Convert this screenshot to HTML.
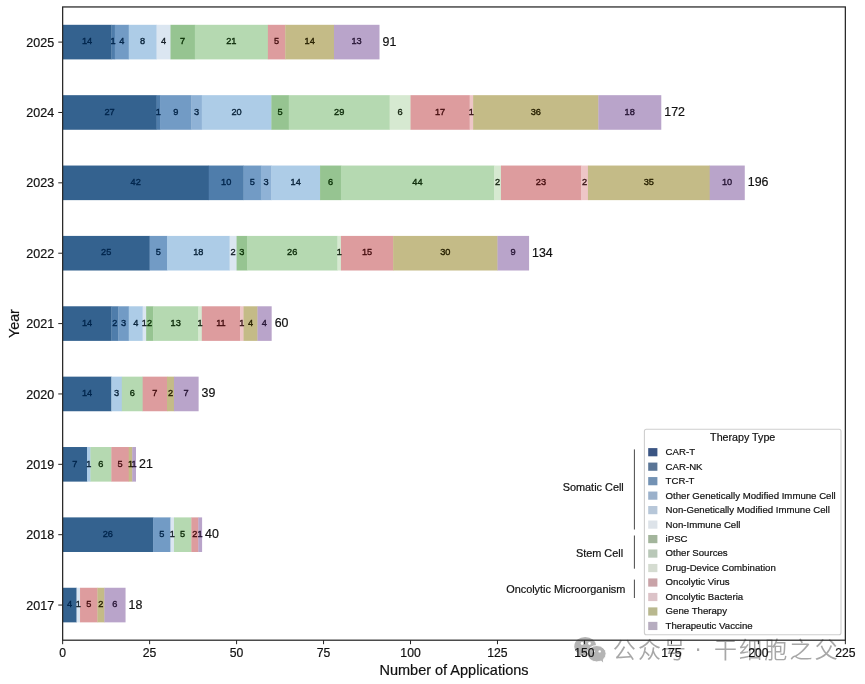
<!DOCTYPE html>
<html lang="en"><head><meta charset="utf-8"><title>Number of Applications by Year and Therapy Type</title>
<style>html,body{margin:0;padding:0;background:#fff}body{width:865px;height:684px;overflow:hidden}svg{display:block}</style></head>
<body>
<svg width="865" height="684" viewBox="0 0 865 684" font-family="Liberation Sans, Arial, sans-serif">
<rect width="865" height="684" fill="#fff"/>
<g opacity="0.75">
<g fill="#9c9c9c"><ellipse cx="585.2" cy="646.2" rx="10.9" ry="9.3"/><path d="M578.5 652.5 l-1.8 4.6 l6 -2.6 z"/><ellipse cx="596.7" cy="653.7" rx="9.4" ry="8.2" stroke="#fff" stroke-width="0.9"/><path d="M600.5 660 l2.6 2.6 l-0.3 -4 z"/></g>
<g fill="#fff"><circle cx="582.1" cy="643.5" r="1.4"/><circle cx="589.5" cy="643.5" r="1.4"/><circle cx="593.6" cy="651.4" r="1.2"/><circle cx="599.7" cy="651.4" r="1.2"/></g>
<g font-size="23" letter-spacing="2.2" font-weight="350" fill="#8a8a8a" font-family="Liberation Sans, Noto Sans CJK SC, sans-serif"><text x="612.7" y="657.7">公众号</text><text x="699.2" y="656.0" text-anchor="middle">·</text><text x="713.9" y="657.7">干细胞之父</text></g>
</g>
<rect x="62.65" y="24.80" width="49.00" height="34.60" fill="#34628f"/>
<rect x="111.35" y="24.80" width="3.78" height="34.60" fill="#4f7dab"/>
<rect x="114.83" y="24.80" width="14.21" height="34.60" fill="#729bc5"/>
<rect x="128.74" y="24.80" width="28.13" height="34.60" fill="#adcce7"/>
<rect x="156.57" y="24.80" width="14.21" height="34.60" fill="#dbe6f1"/>
<rect x="170.49" y="24.80" width="24.65" height="34.60" fill="#96c491"/>
<rect x="194.84" y="24.80" width="73.35" height="34.60" fill="#b5d9b1"/>
<rect x="267.89" y="24.80" width="17.69" height="34.60" fill="#dd9c9e"/>
<rect x="285.28" y="24.80" width="49.00" height="34.60" fill="#c4bb87"/>
<rect x="333.99" y="24.80" width="45.52" height="34.60" fill="#b9a4ca"/>
<text transform="translate(87.00,44.30) scale(0.940,1.000)" font-size="9.80" text-anchor="middle" fill="#00254c" stroke="#00254c" stroke-width="0.38">14</text>
<text transform="translate(113.09,44.30) scale(0.940,1.000)" font-size="9.80" text-anchor="middle" fill="#00254c" stroke="#00254c" stroke-width="0.38">1</text>
<text transform="translate(121.79,44.30) scale(0.940,1.000)" font-size="9.80" text-anchor="middle" fill="#022448" stroke="#022448" stroke-width="0.38">4</text>
<text transform="translate(142.66,44.30) scale(0.940,1.000)" font-size="9.80" text-anchor="middle" fill="#09233a" stroke="#09233a" stroke-width="0.38">8</text>
<text transform="translate(163.53,44.30) scale(0.940,1.000)" font-size="9.80" text-anchor="middle" fill="#162029" stroke="#162029" stroke-width="0.38">4</text>
<text transform="translate(182.66,44.30) scale(0.940,1.000)" font-size="9.80" text-anchor="middle" fill="#082f03" stroke="#082f03" stroke-width="0.38">7</text>
<text transform="translate(231.37,44.30) scale(0.940,1.000)" font-size="9.80" text-anchor="middle" fill="#0c2b09" stroke="#0c2b09" stroke-width="0.38">21</text>
<text transform="translate(276.59,44.30) scale(0.940,1.000)" font-size="9.80" text-anchor="middle" fill="#450d0f" stroke="#450d0f" stroke-width="0.38">5</text>
<text transform="translate(309.64,44.30) scale(0.940,1.000)" font-size="9.80" text-anchor="middle" fill="#282100" stroke="#282100" stroke-width="0.38">14</text>
<text transform="translate(356.60,44.30) scale(0.940,1.000)" font-size="9.80" text-anchor="middle" fill="#271535" stroke="#271535" stroke-width="0.38">13</text>
<text transform="translate(382.51,45.55) scale(1.000,1.000)" font-size="12.40" text-anchor="start" fill="#111" stroke="#111" stroke-width="0.20">91</text>
<line x1="58.25" y1="42.10" x2="62.65" y2="42.10" stroke="#222" stroke-width="1"/>
<text transform="translate(54.15,46.65) scale(1.000,1.000)" font-size="12.50" text-anchor="end" fill="#111" stroke="#111" stroke-width="0.20">2025</text>
<rect x="62.65" y="95.17" width="94.22" height="34.60" fill="#34628f"/>
<rect x="156.57" y="95.17" width="3.78" height="34.60" fill="#4f7dab"/>
<rect x="160.05" y="95.17" width="31.61" height="34.60" fill="#729bc5"/>
<rect x="191.36" y="95.17" width="10.74" height="34.60" fill="#8fb2d6"/>
<rect x="201.80" y="95.17" width="69.87" height="34.60" fill="#adcce7"/>
<rect x="271.37" y="95.17" width="17.69" height="34.60" fill="#96c491"/>
<rect x="288.76" y="95.17" width="101.18" height="34.60" fill="#b5d9b1"/>
<rect x="389.64" y="95.17" width="21.17" height="34.60" fill="#d6e9d1"/>
<rect x="410.52" y="95.17" width="59.44" height="34.60" fill="#dd9c9e"/>
<rect x="469.65" y="95.17" width="3.78" height="34.60" fill="#eec6c7"/>
<rect x="473.13" y="95.17" width="125.53" height="34.60" fill="#c4bb87"/>
<rect x="598.36" y="95.17" width="62.92" height="34.60" fill="#b9a4ca"/>
<text transform="translate(109.61,114.67) scale(0.940,1.000)" font-size="9.80" text-anchor="middle" fill="#00254c" stroke="#00254c" stroke-width="0.38">27</text>
<text transform="translate(158.31,114.67) scale(0.940,1.000)" font-size="9.80" text-anchor="middle" fill="#00254c" stroke="#00254c" stroke-width="0.38">1</text>
<text transform="translate(175.71,114.67) scale(0.940,1.000)" font-size="9.80" text-anchor="middle" fill="#022448" stroke="#022448" stroke-width="0.38">9</text>
<text transform="translate(196.58,114.67) scale(0.940,1.000)" font-size="9.80" text-anchor="middle" fill="#062342" stroke="#062342" stroke-width="0.38">3</text>
<text transform="translate(236.58,114.67) scale(0.940,1.000)" font-size="9.80" text-anchor="middle" fill="#09233a" stroke="#09233a" stroke-width="0.38">20</text>
<text transform="translate(280.07,114.67) scale(0.940,1.000)" font-size="9.80" text-anchor="middle" fill="#082f03" stroke="#082f03" stroke-width="0.38">5</text>
<text transform="translate(339.20,114.67) scale(0.940,1.000)" font-size="9.80" text-anchor="middle" fill="#0c2b09" stroke="#0c2b09" stroke-width="0.38">29</text>
<text transform="translate(400.08,114.67) scale(0.940,1.000)" font-size="9.80" text-anchor="middle" fill="#152511" stroke="#152511" stroke-width="0.38">6</text>
<text transform="translate(440.09,114.67) scale(0.940,1.000)" font-size="9.80" text-anchor="middle" fill="#450d0f" stroke="#450d0f" stroke-width="0.38">17</text>
<text transform="translate(471.39,114.67) scale(0.940,1.000)" font-size="9.80" text-anchor="middle" fill="#361415" stroke="#361415" stroke-width="0.38">1</text>
<text transform="translate(535.75,114.67) scale(0.940,1.000)" font-size="9.80" text-anchor="middle" fill="#282100" stroke="#282100" stroke-width="0.38">36</text>
<text transform="translate(629.67,114.67) scale(0.940,1.000)" font-size="9.80" text-anchor="middle" fill="#271535" stroke="#271535" stroke-width="0.38">18</text>
<text transform="translate(664.28,115.92) scale(1.000,1.000)" font-size="12.40" text-anchor="start" fill="#111" stroke="#111" stroke-width="0.20">172</text>
<line x1="58.25" y1="112.47" x2="62.65" y2="112.47" stroke="#222" stroke-width="1"/>
<text transform="translate(54.15,117.02) scale(1.000,1.000)" font-size="12.50" text-anchor="end" fill="#111" stroke="#111" stroke-width="0.20">2024</text>
<rect x="62.65" y="165.54" width="146.40" height="34.60" fill="#34628f"/>
<rect x="208.75" y="165.54" width="35.09" height="34.60" fill="#4f7dab"/>
<rect x="243.54" y="165.54" width="17.69" height="34.60" fill="#729bc5"/>
<rect x="260.93" y="165.54" width="10.74" height="34.60" fill="#8fb2d6"/>
<rect x="271.37" y="165.54" width="49.00" height="34.60" fill="#adcce7"/>
<rect x="320.07" y="165.54" width="21.17" height="34.60" fill="#96c491"/>
<rect x="340.94" y="165.54" width="153.36" height="34.60" fill="#b5d9b1"/>
<rect x="494.00" y="165.54" width="7.26" height="34.60" fill="#d6e9d1"/>
<rect x="500.96" y="165.54" width="80.31" height="34.60" fill="#dd9c9e"/>
<rect x="580.97" y="165.54" width="7.26" height="34.60" fill="#eec6c7"/>
<rect x="587.93" y="165.54" width="122.05" height="34.60" fill="#c4bb87"/>
<rect x="709.68" y="165.54" width="35.09" height="34.60" fill="#b9a4ca"/>
<text transform="translate(135.70,185.04) scale(0.940,1.000)" font-size="9.80" text-anchor="middle" fill="#00254c" stroke="#00254c" stroke-width="0.38">42</text>
<text transform="translate(226.15,185.04) scale(0.940,1.000)" font-size="9.80" text-anchor="middle" fill="#00254c" stroke="#00254c" stroke-width="0.38">10</text>
<text transform="translate(252.24,185.04) scale(0.940,1.000)" font-size="9.80" text-anchor="middle" fill="#022448" stroke="#022448" stroke-width="0.38">5</text>
<text transform="translate(266.15,185.04) scale(0.940,1.000)" font-size="9.80" text-anchor="middle" fill="#062342" stroke="#062342" stroke-width="0.38">3</text>
<text transform="translate(295.72,185.04) scale(0.940,1.000)" font-size="9.80" text-anchor="middle" fill="#09233a" stroke="#09233a" stroke-width="0.38">14</text>
<text transform="translate(330.51,185.04) scale(0.940,1.000)" font-size="9.80" text-anchor="middle" fill="#082f03" stroke="#082f03" stroke-width="0.38">6</text>
<text transform="translate(417.47,185.04) scale(0.940,1.000)" font-size="9.80" text-anchor="middle" fill="#0c2b09" stroke="#0c2b09" stroke-width="0.38">44</text>
<text transform="translate(497.48,185.04) scale(0.940,1.000)" font-size="9.80" text-anchor="middle" fill="#152511" stroke="#152511" stroke-width="0.38">2</text>
<text transform="translate(540.97,185.04) scale(0.940,1.000)" font-size="9.80" text-anchor="middle" fill="#450d0f" stroke="#450d0f" stroke-width="0.38">23</text>
<text transform="translate(584.45,185.04) scale(0.940,1.000)" font-size="9.80" text-anchor="middle" fill="#361415" stroke="#361415" stroke-width="0.38">2</text>
<text transform="translate(648.81,185.04) scale(0.940,1.000)" font-size="9.80" text-anchor="middle" fill="#282100" stroke="#282100" stroke-width="0.38">35</text>
<text transform="translate(727.08,185.04) scale(0.940,1.000)" font-size="9.80" text-anchor="middle" fill="#271535" stroke="#271535" stroke-width="0.38">10</text>
<text transform="translate(747.77,186.29) scale(1.000,1.000)" font-size="12.40" text-anchor="start" fill="#111" stroke="#111" stroke-width="0.20">196</text>
<line x1="58.25" y1="182.84" x2="62.65" y2="182.84" stroke="#222" stroke-width="1"/>
<text transform="translate(54.15,187.39) scale(1.000,1.000)" font-size="12.50" text-anchor="end" fill="#111" stroke="#111" stroke-width="0.20">2023</text>
<rect x="62.65" y="235.91" width="87.27" height="34.60" fill="#34628f"/>
<rect x="149.62" y="235.91" width="17.69" height="34.60" fill="#729bc5"/>
<rect x="167.01" y="235.91" width="62.92" height="34.60" fill="#adcce7"/>
<rect x="229.63" y="235.91" width="7.26" height="34.60" fill="#dbe6f1"/>
<rect x="236.58" y="235.91" width="10.74" height="34.60" fill="#96c491"/>
<rect x="247.02" y="235.91" width="90.75" height="34.60" fill="#b5d9b1"/>
<rect x="337.46" y="235.91" width="3.78" height="34.60" fill="#d6e9d1"/>
<rect x="340.94" y="235.91" width="52.48" height="34.60" fill="#dd9c9e"/>
<rect x="393.12" y="235.91" width="104.66" height="34.60" fill="#c4bb87"/>
<rect x="497.48" y="235.91" width="31.61" height="34.60" fill="#b9a4ca"/>
<text transform="translate(106.13,255.41) scale(0.940,1.000)" font-size="9.80" text-anchor="middle" fill="#00254c" stroke="#00254c" stroke-width="0.38">25</text>
<text transform="translate(158.31,255.41) scale(0.940,1.000)" font-size="9.80" text-anchor="middle" fill="#022448" stroke="#022448" stroke-width="0.38">5</text>
<text transform="translate(198.32,255.41) scale(0.940,1.000)" font-size="9.80" text-anchor="middle" fill="#09233a" stroke="#09233a" stroke-width="0.38">18</text>
<text transform="translate(233.10,255.41) scale(0.940,1.000)" font-size="9.80" text-anchor="middle" fill="#162029" stroke="#162029" stroke-width="0.38">2</text>
<text transform="translate(241.80,255.41) scale(0.940,1.000)" font-size="9.80" text-anchor="middle" fill="#082f03" stroke="#082f03" stroke-width="0.38">3</text>
<text transform="translate(292.24,255.41) scale(0.940,1.000)" font-size="9.80" text-anchor="middle" fill="#0c2b09" stroke="#0c2b09" stroke-width="0.38">26</text>
<text transform="translate(339.20,255.41) scale(0.940,1.000)" font-size="9.80" text-anchor="middle" fill="#152511" stroke="#152511" stroke-width="0.38">1</text>
<text transform="translate(367.03,255.41) scale(0.940,1.000)" font-size="9.80" text-anchor="middle" fill="#450d0f" stroke="#450d0f" stroke-width="0.38">15</text>
<text transform="translate(445.30,255.41) scale(0.940,1.000)" font-size="9.80" text-anchor="middle" fill="#282100" stroke="#282100" stroke-width="0.38">30</text>
<text transform="translate(513.14,255.41) scale(0.940,1.000)" font-size="9.80" text-anchor="middle" fill="#271535" stroke="#271535" stroke-width="0.38">9</text>
<text transform="translate(532.09,256.66) scale(1.000,1.000)" font-size="12.40" text-anchor="start" fill="#111" stroke="#111" stroke-width="0.20">134</text>
<line x1="58.25" y1="253.21" x2="62.65" y2="253.21" stroke="#222" stroke-width="1"/>
<text transform="translate(54.15,257.76) scale(1.000,1.000)" font-size="12.50" text-anchor="end" fill="#111" stroke="#111" stroke-width="0.20">2022</text>
<rect x="62.65" y="306.28" width="49.00" height="34.60" fill="#34628f"/>
<rect x="111.35" y="306.28" width="7.26" height="34.60" fill="#4f7dab"/>
<rect x="118.31" y="306.28" width="10.74" height="34.60" fill="#729bc5"/>
<rect x="128.74" y="306.28" width="14.21" height="34.60" fill="#adcce7"/>
<rect x="142.66" y="306.28" width="3.78" height="34.60" fill="#dbe6f1"/>
<rect x="146.14" y="306.28" width="7.26" height="34.60" fill="#96c491"/>
<rect x="153.10" y="306.28" width="45.52" height="34.60" fill="#b5d9b1"/>
<rect x="198.32" y="306.28" width="3.78" height="34.60" fill="#d6e9d1"/>
<rect x="201.80" y="306.28" width="38.57" height="34.60" fill="#dd9c9e"/>
<rect x="240.06" y="306.28" width="3.78" height="34.60" fill="#eec6c7"/>
<rect x="243.54" y="306.28" width="14.21" height="34.60" fill="#c4bb87"/>
<rect x="257.46" y="306.28" width="14.21" height="34.60" fill="#b9a4ca"/>
<text transform="translate(87.00,325.78) scale(0.940,1.000)" font-size="9.80" text-anchor="middle" fill="#00254c" stroke="#00254c" stroke-width="0.38">14</text>
<text transform="translate(114.83,325.78) scale(0.940,1.000)" font-size="9.80" text-anchor="middle" fill="#00254c" stroke="#00254c" stroke-width="0.38">2</text>
<text transform="translate(123.53,325.78) scale(0.940,1.000)" font-size="9.80" text-anchor="middle" fill="#022448" stroke="#022448" stroke-width="0.38">3</text>
<text transform="translate(135.70,325.78) scale(0.940,1.000)" font-size="9.80" text-anchor="middle" fill="#09233a" stroke="#09233a" stroke-width="0.38">4</text>
<text transform="translate(144.40,325.78) scale(0.940,1.000)" font-size="9.80" text-anchor="middle" fill="#162029" stroke="#162029" stroke-width="0.38">1</text>
<text transform="translate(149.62,325.78) scale(0.940,1.000)" font-size="9.80" text-anchor="middle" fill="#082f03" stroke="#082f03" stroke-width="0.38">2</text>
<text transform="translate(175.71,325.78) scale(0.940,1.000)" font-size="9.80" text-anchor="middle" fill="#0c2b09" stroke="#0c2b09" stroke-width="0.38">13</text>
<text transform="translate(200.06,325.78) scale(0.940,1.000)" font-size="9.80" text-anchor="middle" fill="#152511" stroke="#152511" stroke-width="0.38">1</text>
<text transform="translate(220.93,325.78) scale(0.940,1.000)" font-size="9.80" text-anchor="middle" fill="#450d0f" stroke="#450d0f" stroke-width="0.38">11</text>
<text transform="translate(241.80,325.78) scale(0.940,1.000)" font-size="9.80" text-anchor="middle" fill="#361415" stroke="#361415" stroke-width="0.38">1</text>
<text transform="translate(250.50,325.78) scale(0.940,1.000)" font-size="9.80" text-anchor="middle" fill="#282100" stroke="#282100" stroke-width="0.38">4</text>
<text transform="translate(264.41,325.78) scale(0.940,1.000)" font-size="9.80" text-anchor="middle" fill="#271535" stroke="#271535" stroke-width="0.38">4</text>
<text transform="translate(274.67,327.03) scale(1.000,1.000)" font-size="12.40" text-anchor="start" fill="#111" stroke="#111" stroke-width="0.20">60</text>
<line x1="58.25" y1="323.58" x2="62.65" y2="323.58" stroke="#222" stroke-width="1"/>
<text transform="translate(54.15,328.13) scale(1.000,1.000)" font-size="12.50" text-anchor="end" fill="#111" stroke="#111" stroke-width="0.20">2021</text>
<rect x="62.65" y="376.65" width="49.00" height="34.60" fill="#34628f"/>
<rect x="111.35" y="376.65" width="10.74" height="34.60" fill="#adcce7"/>
<rect x="121.79" y="376.65" width="21.17" height="34.60" fill="#b5d9b1"/>
<rect x="142.66" y="376.65" width="24.65" height="34.60" fill="#dd9c9e"/>
<rect x="167.01" y="376.65" width="7.26" height="34.60" fill="#c4bb87"/>
<rect x="173.97" y="376.65" width="24.65" height="34.60" fill="#b9a4ca"/>
<text transform="translate(87.00,396.15) scale(0.940,1.000)" font-size="9.80" text-anchor="middle" fill="#00254c" stroke="#00254c" stroke-width="0.38">14</text>
<text transform="translate(116.57,396.15) scale(0.940,1.000)" font-size="9.80" text-anchor="middle" fill="#09233a" stroke="#09233a" stroke-width="0.38">3</text>
<text transform="translate(132.22,396.15) scale(0.940,1.000)" font-size="9.80" text-anchor="middle" fill="#0c2b09" stroke="#0c2b09" stroke-width="0.38">6</text>
<text transform="translate(154.83,396.15) scale(0.940,1.000)" font-size="9.80" text-anchor="middle" fill="#450d0f" stroke="#450d0f" stroke-width="0.38">7</text>
<text transform="translate(170.49,396.15) scale(0.940,1.000)" font-size="9.80" text-anchor="middle" fill="#282100" stroke="#282100" stroke-width="0.38">2</text>
<text transform="translate(186.14,396.15) scale(0.940,1.000)" font-size="9.80" text-anchor="middle" fill="#271535" stroke="#271535" stroke-width="0.38">7</text>
<text transform="translate(201.62,397.40) scale(1.000,1.000)" font-size="12.40" text-anchor="start" fill="#111" stroke="#111" stroke-width="0.20">39</text>
<line x1="58.25" y1="393.95" x2="62.65" y2="393.95" stroke="#222" stroke-width="1"/>
<text transform="translate(54.15,398.50) scale(1.000,1.000)" font-size="12.50" text-anchor="end" fill="#111" stroke="#111" stroke-width="0.20">2020</text>
<rect x="62.65" y="447.02" width="24.65" height="34.60" fill="#34628f"/>
<rect x="87.00" y="447.02" width="3.78" height="34.60" fill="#adcce7"/>
<rect x="90.48" y="447.02" width="21.17" height="34.60" fill="#b5d9b1"/>
<rect x="111.35" y="447.02" width="17.69" height="34.60" fill="#dd9c9e"/>
<rect x="128.74" y="447.02" width="3.78" height="34.60" fill="#c4bb87"/>
<rect x="132.22" y="447.02" width="3.78" height="34.60" fill="#b9a4ca"/>
<text transform="translate(74.83,466.52) scale(0.940,1.000)" font-size="9.80" text-anchor="middle" fill="#00254c" stroke="#00254c" stroke-width="0.38">7</text>
<text transform="translate(88.74,466.52) scale(0.940,1.000)" font-size="9.80" text-anchor="middle" fill="#09233a" stroke="#09233a" stroke-width="0.38">1</text>
<text transform="translate(100.92,466.52) scale(0.940,1.000)" font-size="9.80" text-anchor="middle" fill="#0c2b09" stroke="#0c2b09" stroke-width="0.38">6</text>
<text transform="translate(120.05,466.52) scale(0.940,1.000)" font-size="9.80" text-anchor="middle" fill="#450d0f" stroke="#450d0f" stroke-width="0.38">5</text>
<text transform="translate(130.48,466.52) scale(0.940,1.000)" font-size="9.80" text-anchor="middle" fill="#282100" stroke="#282100" stroke-width="0.38">1</text>
<text transform="translate(133.96,466.52) scale(0.940,1.000)" font-size="9.80" text-anchor="middle" fill="#271535" stroke="#271535" stroke-width="0.38">1</text>
<text transform="translate(139.00,467.77) scale(1.000,1.000)" font-size="12.40" text-anchor="start" fill="#111" stroke="#111" stroke-width="0.20">21</text>
<line x1="58.25" y1="464.32" x2="62.65" y2="464.32" stroke="#222" stroke-width="1"/>
<text transform="translate(54.15,468.87) scale(1.000,1.000)" font-size="12.50" text-anchor="end" fill="#111" stroke="#111" stroke-width="0.20">2019</text>
<rect x="62.65" y="517.39" width="90.75" height="34.60" fill="#34628f"/>
<rect x="153.10" y="517.39" width="17.69" height="34.60" fill="#729bc5"/>
<rect x="170.49" y="517.39" width="3.78" height="34.60" fill="#dbe6f1"/>
<rect x="173.97" y="517.39" width="17.69" height="34.60" fill="#b5d9b1"/>
<rect x="191.36" y="517.39" width="7.26" height="34.60" fill="#dd9c9e"/>
<rect x="198.32" y="517.39" width="3.78" height="34.60" fill="#b9a4ca"/>
<text transform="translate(107.87,536.89) scale(0.940,1.000)" font-size="9.80" text-anchor="middle" fill="#00254c" stroke="#00254c" stroke-width="0.38">26</text>
<text transform="translate(161.79,536.89) scale(0.940,1.000)" font-size="9.80" text-anchor="middle" fill="#022448" stroke="#022448" stroke-width="0.38">5</text>
<text transform="translate(172.23,536.89) scale(0.940,1.000)" font-size="9.80" text-anchor="middle" fill="#162029" stroke="#162029" stroke-width="0.38">1</text>
<text transform="translate(182.66,536.89) scale(0.940,1.000)" font-size="9.80" text-anchor="middle" fill="#0c2b09" stroke="#0c2b09" stroke-width="0.38">5</text>
<text transform="translate(194.84,536.89) scale(0.940,1.000)" font-size="9.80" text-anchor="middle" fill="#450d0f" stroke="#450d0f" stroke-width="0.38">2</text>
<text transform="translate(200.06,536.89) scale(0.940,1.000)" font-size="9.80" text-anchor="middle" fill="#271535" stroke="#271535" stroke-width="0.38">1</text>
<text transform="translate(205.10,538.14) scale(1.000,1.000)" font-size="12.40" text-anchor="start" fill="#111" stroke="#111" stroke-width="0.20">40</text>
<line x1="58.25" y1="534.69" x2="62.65" y2="534.69" stroke="#222" stroke-width="1"/>
<text transform="translate(54.15,539.24) scale(1.000,1.000)" font-size="12.50" text-anchor="end" fill="#111" stroke="#111" stroke-width="0.20">2018</text>
<rect x="62.65" y="587.76" width="14.21" height="34.60" fill="#34628f"/>
<rect x="76.56" y="587.76" width="3.78" height="34.60" fill="#dbe6f1"/>
<rect x="80.04" y="587.76" width="17.69" height="34.60" fill="#dd9c9e"/>
<rect x="97.44" y="587.76" width="7.26" height="34.60" fill="#c4bb87"/>
<rect x="104.39" y="587.76" width="21.17" height="34.60" fill="#b9a4ca"/>
<text transform="translate(69.61,607.26) scale(0.940,1.000)" font-size="9.80" text-anchor="middle" fill="#00254c" stroke="#00254c" stroke-width="0.38">4</text>
<text transform="translate(78.30,607.26) scale(0.940,1.000)" font-size="9.80" text-anchor="middle" fill="#162029" stroke="#162029" stroke-width="0.38">1</text>
<text transform="translate(88.74,607.26) scale(0.940,1.000)" font-size="9.80" text-anchor="middle" fill="#450d0f" stroke="#450d0f" stroke-width="0.38">5</text>
<text transform="translate(100.92,607.26) scale(0.940,1.000)" font-size="9.80" text-anchor="middle" fill="#282100" stroke="#282100" stroke-width="0.38">2</text>
<text transform="translate(114.83,607.26) scale(0.940,1.000)" font-size="9.80" text-anchor="middle" fill="#271535" stroke="#271535" stroke-width="0.38">6</text>
<text transform="translate(128.57,608.51) scale(1.000,1.000)" font-size="12.40" text-anchor="start" fill="#111" stroke="#111" stroke-width="0.20">18</text>
<line x1="58.25" y1="605.06" x2="62.65" y2="605.06" stroke="#222" stroke-width="1"/>
<text transform="translate(54.15,609.61) scale(1.000,1.000)" font-size="12.50" text-anchor="end" fill="#111" stroke="#111" stroke-width="0.20">2017</text>
<rect x="62.65" y="6.95" width="782.70" height="633.25" fill="none" stroke="#262626" stroke-width="1.25"/>
<line x1="62.65" y1="640.20" x2="62.65" y2="644.20" stroke="#222" stroke-width="1"/>
<text transform="translate(62.65,657.20) scale(1.000,1.000)" font-size="12.20" text-anchor="middle" fill="#111" stroke="#111" stroke-width="0.20">0</text>
<line x1="149.62" y1="640.20" x2="149.62" y2="644.20" stroke="#222" stroke-width="1"/>
<text transform="translate(149.62,657.20) scale(1.000,1.000)" font-size="12.20" text-anchor="middle" fill="#111" stroke="#111" stroke-width="0.20">25</text>
<line x1="236.58" y1="640.20" x2="236.58" y2="644.20" stroke="#222" stroke-width="1"/>
<text transform="translate(236.58,657.20) scale(1.000,1.000)" font-size="12.20" text-anchor="middle" fill="#111" stroke="#111" stroke-width="0.20">50</text>
<line x1="323.55" y1="640.20" x2="323.55" y2="644.20" stroke="#222" stroke-width="1"/>
<text transform="translate(323.55,657.20) scale(1.000,1.000)" font-size="12.20" text-anchor="middle" fill="#111" stroke="#111" stroke-width="0.20">75</text>
<line x1="410.52" y1="640.20" x2="410.52" y2="644.20" stroke="#222" stroke-width="1"/>
<text transform="translate(410.52,657.20) scale(1.000,1.000)" font-size="12.20" text-anchor="middle" fill="#111" stroke="#111" stroke-width="0.20">100</text>
<line x1="497.48" y1="640.20" x2="497.48" y2="644.20" stroke="#222" stroke-width="1"/>
<text transform="translate(497.48,657.20) scale(1.000,1.000)" font-size="12.20" text-anchor="middle" fill="#111" stroke="#111" stroke-width="0.20">125</text>
<line x1="584.45" y1="640.20" x2="584.45" y2="644.20" stroke="#222" stroke-width="1"/>
<text transform="translate(584.45,657.20) scale(1.000,1.000)" font-size="12.20" text-anchor="middle" fill="#111" stroke="#111" stroke-width="0.20">150</text>
<line x1="671.42" y1="640.20" x2="671.42" y2="644.20" stroke="#222" stroke-width="1"/>
<text transform="translate(671.42,657.20) scale(1.000,1.000)" font-size="12.20" text-anchor="middle" fill="#111" stroke="#111" stroke-width="0.20">175</text>
<line x1="758.38" y1="640.20" x2="758.38" y2="644.20" stroke="#222" stroke-width="1"/>
<text transform="translate(758.38,657.20) scale(1.000,1.000)" font-size="12.20" text-anchor="middle" fill="#111" stroke="#111" stroke-width="0.20">200</text>
<line x1="845.35" y1="640.20" x2="845.35" y2="644.20" stroke="#222" stroke-width="1"/>
<text transform="translate(845.35,657.20) scale(1.000,1.000)" font-size="12.20" text-anchor="middle" fill="#111" stroke="#111" stroke-width="0.20">225</text>
<text transform="translate(454.00,674.80) scale(1.000,1.000)" font-size="14.50" text-anchor="middle" fill="#111" stroke="#111" stroke-width="0.20">Number of Applications</text>
<text transform="translate(19.20,323.58) rotate(-90) scale(1.000,1.000)" font-size="14.30" text-anchor="middle" fill="#111" stroke="#111" stroke-width="0.20">Year</text>
<rect x="644.40" y="429.30" width="196.60" height="205.50" rx="2" fill="#fff" stroke="#cecece" stroke-width="1.1"/>
<text transform="translate(742.70,441.40) scale(1.000,1.000)" font-size="10.70" text-anchor="middle" fill="#111" stroke="#111" stroke-width="0.20">Therapy Type</text>
<rect x="648.2" y="448.10" width="9.2" height="8.2" fill="#3b5583"/>
<text transform="translate(665.60,455.10) scale(1.000,1.000)" font-size="9.65" text-anchor="start" fill="#111" stroke="#111" stroke-width="0.20">CAR-T</text>
<rect x="648.2" y="462.58" width="9.2" height="8.2" fill="#5a7596"/>
<text transform="translate(665.60,469.58) scale(1.000,1.000)" font-size="9.65" text-anchor="start" fill="#111" stroke="#111" stroke-width="0.20">CAR-NK</text>
<rect x="648.2" y="477.06" width="9.2" height="8.2" fill="#7392b4"/>
<text transform="translate(665.60,484.06) scale(1.000,1.000)" font-size="9.65" text-anchor="start" fill="#111" stroke="#111" stroke-width="0.20">TCR-T</text>
<rect x="648.2" y="491.54" width="9.2" height="8.2" fill="#9bb1cb"/>
<text transform="translate(665.60,498.54) scale(1.000,1.000)" font-size="9.65" text-anchor="start" fill="#111" stroke="#111" stroke-width="0.20">Other Genetically Modified Immune Cell</text>
<rect x="648.2" y="506.02" width="9.2" height="8.2" fill="#b7c7d9"/>
<text transform="translate(665.60,513.02) scale(1.000,1.000)" font-size="9.65" text-anchor="start" fill="#111" stroke="#111" stroke-width="0.20">Non-Genetically Modified Immune Cell</text>
<rect x="648.2" y="520.50" width="9.2" height="8.2" fill="#dde3e9"/>
<text transform="translate(665.60,527.50) scale(1.000,1.000)" font-size="9.65" text-anchor="start" fill="#111" stroke="#111" stroke-width="0.20">Non-Immune Cell</text>
<rect x="648.2" y="534.98" width="9.2" height="8.2" fill="#a3b59c"/>
<text transform="translate(665.60,541.98) scale(1.000,1.000)" font-size="9.65" text-anchor="start" fill="#111" stroke="#111" stroke-width="0.20">iPSC</text>
<rect x="648.2" y="549.46" width="9.2" height="8.2" fill="#b9c8b8"/>
<text transform="translate(665.60,556.46) scale(1.000,1.000)" font-size="9.65" text-anchor="start" fill="#111" stroke="#111" stroke-width="0.20">Other Sources</text>
<rect x="648.2" y="563.94" width="9.2" height="8.2" fill="#d5dcd1"/>
<text transform="translate(665.60,570.94) scale(1.000,1.000)" font-size="9.65" text-anchor="start" fill="#111" stroke="#111" stroke-width="0.20">Drug-Device Combination</text>
<rect x="648.2" y="578.42" width="9.2" height="8.2" fill="#c9a3a8"/>
<text transform="translate(665.60,585.42) scale(1.000,1.000)" font-size="9.65" text-anchor="start" fill="#111" stroke="#111" stroke-width="0.20">Oncolytic Virus</text>
<rect x="648.2" y="592.90" width="9.2" height="8.2" fill="#dcc3c8"/>
<text transform="translate(665.60,599.90) scale(1.000,1.000)" font-size="9.65" text-anchor="start" fill="#111" stroke="#111" stroke-width="0.20">Oncolytic Bacteria</text>
<rect x="648.2" y="607.38" width="9.2" height="8.2" fill="#b9b88f"/>
<text transform="translate(665.60,614.38) scale(1.000,1.000)" font-size="9.65" text-anchor="start" fill="#111" stroke="#111" stroke-width="0.20">Gene Therapy</text>
<rect x="648.2" y="621.86" width="9.2" height="8.2" fill="#b7adc0"/>
<text transform="translate(665.60,628.86) scale(1.000,1.000)" font-size="9.65" text-anchor="start" fill="#111" stroke="#111" stroke-width="0.20">Therapeutic Vaccine</text>
<line x1="634.4" y1="449.40" x2="634.4" y2="529.50" stroke="#333" stroke-width="0.9"/>
<text transform="translate(623.80,491.00) scale(1.000,1.000)" font-size="10.90" text-anchor="end" fill="#111" stroke="#111" stroke-width="0.20">Somatic Cell</text>
<line x1="634.4" y1="535.50" x2="634.4" y2="568.70" stroke="#333" stroke-width="0.9"/>
<text transform="translate(623.10,557.30) scale(1.000,1.000)" font-size="10.90" text-anchor="end" fill="#111" stroke="#111" stroke-width="0.20">Stem Cell</text>
<line x1="634.4" y1="579.60" x2="634.4" y2="598.00" stroke="#333" stroke-width="0.9"/>
<text transform="translate(625.40,593.00) scale(1.000,1.000)" font-size="10.90" text-anchor="end" fill="#111" stroke="#111" stroke-width="0.20">Oncolytic Microorganism</text>
</svg>
</body></html>
